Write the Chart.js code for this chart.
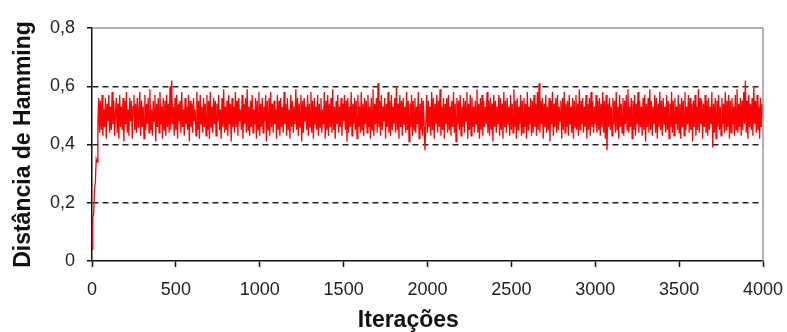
<!DOCTYPE html>
<html>
<head>
<meta charset="utf-8">
<script src="https://cdn.jsdelivr.net/npm/chart.js@4/dist/chart.umd.min.js"></script>
<style>
  html, body { margin: 0; padding: 0; background: #fff; }
  #wrap { width: 787px; height: 332px; }
</style>
</head>
<body>
<div id="wrap"><canvas id="chart-hamming"></canvas></div>
<script>
// --- Data (one sample every 5 iterations) ---
const STEP = 5
const xTicks = [0, 500, 1000, 1500, 2000, 2500, 3000, 3500, 4000]
const yTicks = [0, 0.2, 0.4, 0.6, 0.8]
const distance = [
    0.04, 0.15, 0.16, 0.25, 0.27, 0.35, 0.34, 0.47, 0.56, 0.44,
    0.55, 0.45, 0.57, 0.43, 0.52, 0.46, 0.56, 0.42, 0.54, 0.48,
    0.57, 0.44, 0.53, 0.45, 0.58, 0.47, 0.55, 0.43, 0.51, 0.56,
    0.44, 0.54, 0.42, 0.57, 0.46, 0.53, 0.45, 0.56, 0.41, 0.55,
    0.47, 0.58, 0.44, 0.52, 0.43, 0.56, 0.48, 0.55, 0.42, 0.53,
    0.57, 0.45, 0.54, 0.44, 0.56, 0.46, 0.52, 0.58, 0.43, 0.55,
    0.46, 0.53, 0.42, 0.57, 0.45, 0.54, 0.47, 0.56, 0.44, 0.59,
    0.45, 0.52, 0.43, 0.55, 0.48, 0.57, 0.41, 0.54, 0.46, 0.56,
    0.44, 0.58, 0.47, 0.53, 0.42, 0.56, 0.45, 0.55, 0.43, 0.57,
    0.46, 0.54, 0.44, 0.60, 0.45, 0.62, 0.47, 0.53, 0.43, 0.56,
    0.45, 0.57, 0.42, 0.54, 0.48, 0.55, 0.44, 0.58, 0.46, 0.52,
    0.43, 0.56, 0.47, 0.53, 0.45, 0.57, 0.41, 0.55, 0.46, 0.54,
    0.44, 0.56, 0.48, 0.52, 0.43, 0.58, 0.45, 0.55, 0.42, 0.57,
    0.47, 0.53, 0.44, 0.56, 0.46, 0.54, 0.43, 0.57, 0.45, 0.55,
    0.42, 0.58, 0.46, 0.53, 0.44, 0.56, 0.47, 0.55, 0.43, 0.54,
    0.48, 0.57, 0.45, 0.52, 0.42, 0.56, 0.46, 0.59, 0.44, 0.53,
    0.45, 0.55, 0.43, 0.57, 0.47, 0.54, 0.41, 0.56, 0.46, 0.53,
    0.44, 0.58, 0.46, 0.55, 0.43, 0.56, 0.48, 0.52, 0.45, 0.57,
    0.42, 0.54, 0.47, 0.56, 0.44, 0.59, 0.45, 0.53, 0.43, 0.55,
    0.46, 0.57, 0.44, 0.52, 0.47, 0.56, 0.42, 0.55, 0.45, 0.58,
    0.43, 0.54, 0.46, 0.56, 0.44, 0.53, 0.48, 0.57, 0.41, 0.55,
    0.45, 0.56, 0.43, 0.58, 0.46, 0.54, 0.44, 0.55, 0.47, 0.52,
    0.42, 0.57, 0.45, 0.55, 0.43, 0.56, 0.46, 0.53, 0.44, 0.58,
    0.47, 0.54, 0.43, 0.56, 0.45, 0.52, 0.42, 0.57, 0.46, 0.55,
    0.44, 0.53, 0.47, 0.59, 0.45, 0.56, 0.43, 0.54, 0.46, 0.57,
    0.41, 0.55, 0.44, 0.56, 0.48, 0.53, 0.45, 0.57, 0.43, 0.54,
    0.46, 0.58, 0.44, 0.55, 0.42, 0.56, 0.47, 0.53, 0.45, 0.57,
    0.43, 0.54, 0.46, 0.56, 0.44, 0.52, 0.47, 0.58, 0.42, 0.55,
    0.45, 0.57, 0.43, 0.54, 0.46, 0.56, 0.44, 0.59, 0.45, 0.53,
    0.42, 0.55, 0.47, 0.57, 0.44, 0.53, 0.46, 0.56, 0.43, 0.54,
    0.48, 0.57, 0.45, 0.55, 0.41, 0.56, 0.44, 0.53, 0.46, 0.58,
    0.43, 0.54, 0.47, 0.56, 0.45, 0.55, 0.42, 0.57, 0.46, 0.53,
    0.44, 0.58, 0.45, 0.54, 0.43, 0.56, 0.47, 0.55, 0.44, 0.57,
    0.46, 0.53, 0.42, 0.56, 0.45, 0.59, 0.43, 0.54, 0.47, 0.56,
    0.44, 0.61, 0.46, 0.55, 0.43, 0.57, 0.45, 0.53, 0.48, 0.56,
    0.42, 0.54, 0.46, 0.58, 0.44, 0.55, 0.43, 0.57, 0.45, 0.53,
    0.47, 0.56, 0.44, 0.60, 0.45, 0.54, 0.42, 0.57, 0.46, 0.55,
    0.43, 0.56, 0.47, 0.53, 0.44, 0.58, 0.45, 0.55, 0.41, 0.54,
    0.46, 0.57, 0.43, 0.55, 0.45, 0.56, 0.44, 0.53, 0.47, 0.58,
    0.42, 0.54, 0.45, 0.56, 0.43, 0.55, 0.46, 0.38, 0.47, 0.57,
    0.44, 0.55, 0.46, 0.53, 0.43, 0.58, 0.45, 0.56, 0.42, 0.54,
    0.47, 0.57, 0.44, 0.55, 0.46, 0.59, 0.43, 0.53, 0.45, 0.56,
    0.42, 0.54, 0.47, 0.56, 0.44, 0.57, 0.45, 0.53, 0.43, 0.55,
    0.46, 0.58, 0.44, 0.54, 0.41, 0.56, 0.47, 0.55, 0.45, 0.57,
    0.43, 0.53, 0.46, 0.56, 0.44, 0.55, 0.48, 0.58, 0.42, 0.54,
    0.45, 0.57, 0.43, 0.56, 0.46, 0.53, 0.44, 0.55, 0.47, 0.59,
    0.44, 0.54, 0.42, 0.56, 0.45, 0.57, 0.43, 0.55, 0.46, 0.53,
    0.47, 0.58, 0.44, 0.55, 0.43, 0.56, 0.45, 0.54, 0.41, 0.57,
    0.46, 0.55, 0.44, 0.53, 0.47, 0.57, 0.43, 0.56, 0.45, 0.54,
    0.42, 0.58, 0.46, 0.55, 0.44, 0.56, 0.47, 0.53, 0.43, 0.57,
    0.45, 0.54, 0.44, 0.59, 0.46, 0.55, 0.42, 0.56, 0.45, 0.53,
    0.47, 0.57, 0.43, 0.55, 0.44, 0.56, 0.46, 0.54, 0.42, 0.58,
    0.45, 0.53, 0.47, 0.56, 0.43, 0.55, 0.44, 0.57, 0.46, 0.54,
    0.43, 0.58, 0.45, 0.61, 0.44, 0.55, 0.47, 0.56, 0.42, 0.54,
    0.46, 0.57, 0.44, 0.53, 0.45, 0.56, 0.41, 0.55, 0.47, 0.58,
    0.43, 0.54, 0.46, 0.56, 0.44, 0.57, 0.45, 0.53, 0.48, 0.55,
    0.42, 0.56, 0.45, 0.58, 0.44, 0.54, 0.46, 0.55, 0.43, 0.57,
    0.47, 0.53, 0.44, 0.56, 0.42, 0.55, 0.46, 0.57, 0.45, 0.54,
    0.43, 0.59, 0.45, 0.55, 0.47, 0.56, 0.44, 0.53, 0.46, 0.57,
    0.42, 0.54, 0.45, 0.56, 0.43, 0.58, 0.46, 0.55, 0.44, 0.53,
    0.47, 0.57, 0.44, 0.55, 0.45, 0.56, 0.43, 0.54, 0.46, 0.58,
    0.44, 0.55, 0.42, 0.57, 0.38, 0.54, 0.46, 0.56, 0.45, 0.53,
    0.43, 0.56, 0.47, 0.55, 0.44, 0.58, 0.45, 0.53, 0.42, 0.57,
    0.46, 0.54, 0.44, 0.56, 0.43, 0.55, 0.47, 0.57, 0.45, 0.59,
    0.44, 0.53, 0.46, 0.56, 0.42, 0.55, 0.45, 0.57, 0.43, 0.54,
    0.47, 0.58, 0.44, 0.55, 0.46, 0.53, 0.43, 0.56, 0.45, 0.57,
    0.41, 0.54, 0.46, 0.56, 0.44, 0.59, 0.45, 0.55, 0.43, 0.53,
    0.47, 0.57, 0.44, 0.56, 0.42, 0.54, 0.46, 0.58, 0.45, 0.55,
    0.43, 0.56, 0.47, 0.53, 0.44, 0.57, 0.45, 0.55, 0.42, 0.54,
    0.46, 0.58, 0.44, 0.55, 0.43, 0.56, 0.47, 0.53, 0.45, 0.57,
    0.44, 0.54, 0.42, 0.56, 0.46, 0.55, 0.43, 0.58, 0.45, 0.53,
    0.47, 0.57, 0.44, 0.56, 0.45, 0.54, 0.41, 0.55, 0.46, 0.57,
    0.43, 0.53, 0.45, 0.59, 0.44, 0.56, 0.47, 0.55, 0.42, 0.54,
    0.46, 0.57, 0.44, 0.55, 0.43, 0.56, 0.45, 0.53, 0.47, 0.58,
    0.39, 0.54, 0.44, 0.56, 0.42, 0.55, 0.46, 0.57, 0.45, 0.53,
    0.43, 0.56, 0.47, 0.54, 0.44, 0.58, 0.45, 0.55, 0.46, 0.57,
    0.42, 0.55, 0.44, 0.56, 0.47, 0.53, 0.43, 0.57, 0.45, 0.59,
    0.44, 0.54, 0.46, 0.56, 0.43, 0.55, 0.45, 0.58, 0.47, 0.62,
    0.44, 0.55, 0.42, 0.57, 0.46, 0.54, 0.45, 0.56, 0.43, 0.60,
    0.47, 0.55, 0.44, 0.57, 0.45, 0.53, 0.42, 0.56, 0.46, 0.54,
    0.50
]
const iterations = distance.map((_, i) => i * STEP)

const FONT = "'Liberation Sans', Arial, sans-serif"
const AXIS = '#111'

// grey frame on top and right of the plot area, like the Excel original
const frame = {
    id: 'frame',
    afterDraw(chart) {
        const { ctx, chartArea: a } = chart
        ctx.save()
        ctx.strokeStyle = '#999'
        ctx.lineWidth = 1.5
        ctx.beginPath()
        ctx.moveTo(a.left, a.top)
        ctx.lineTo(a.right, a.top)
        ctx.lineTo(a.right, a.bottom)
        ctx.stroke()
        ctx.restore()
    }
}

const isInner = v => yTicks.slice(1, -1).some(t => Math.abs(t - v) < 1e-6)

new Chart(document.getElementById('chart-hamming'), {
    type: 'line',
    data: {
        datasets: [{
            data: iterations.map((x, i) => ({ x, y: distance[i] })),
            borderColor: '#ff0000',
            borderWidth: 1.3,
            pointRadius: 0,
            tension: 0,
        }]
    },
    options: {
        responsive: true,
        maintainAspectRatio: false,
        animation: false,
        layout: { padding: { left: 0, right: 24, top: 28, bottom: 0 } },
        plugins: { legend: { display: false }, tooltip: { enabled: false } },
        scales: {
            x: {
                type: 'linear',
                min: 0, max: 4000,
                afterFit: s => { s.height = 71; s.paddingLeft = 0; s.paddingRight = 0 },
                afterBuildTicks: s => { s.ticks = xTicks.map(value => ({ value })) },
                ticks: { color: '#222', padding: 12, maxRotation: 0, font: { family: FONT, size: 18 }, callback: v => String(v) },
                grid: { drawOnChartArea: false, tickLength: 6, tickColor: AXIS, tickWidth: 1.5 },
                border: { color: AXIS, width: 1.5 },
                // trailing no-break spaces nudge the title left, as in the original
                title: { display: true, text: 'Iterações\u00a0\u00a0\u00a0\u00a0\u00a0\u00a0', color: '#111', padding: 0, font: { family: FONT, size: 23, weight: 'bold', lineHeight: 1 } },
            },
            y: {
                min: 0, max: 0.8,
                afterFit: s => { s.width = 92; s.paddingTop = 0; s.paddingBottom = 0 },
                afterBuildTicks: s => { s.ticks = yTicks.map(value => ({ value })) },
                ticks: { color: '#222', padding: 12, font: { family: FONT, size: 18 }, callback: v => v === 0 ? '0' : v.toFixed(1).replace('.', ',') },
                grid: {
                    color: c => isInner(c.tick.value) ? '#222' : 'rgba(0,0,0,0)',
                    lineWidth: 1.5,
                    tickLength: 5, tickColor: AXIS, tickWidth: 1.5,
                },
                border: { color: AXIS, width: 1.5, dash: [6, 4] },
                title: { display: true, text: 'Distância de Hamming', color: '#111', padding: { top: 10, bottom: 0 }, font: { family: FONT, size: 23, weight: 'bold', lineHeight: 1.2 } },
            }
        }
    },
    plugins: [frame]
})
</script>
</body>
</html>
